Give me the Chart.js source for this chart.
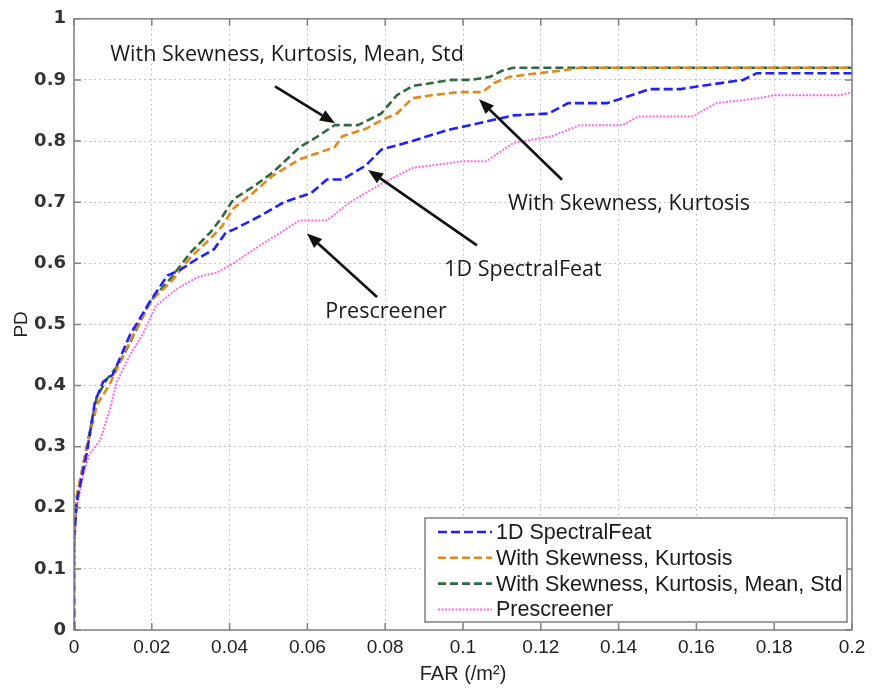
<!DOCTYPE html>
<html><head><meta charset="utf-8">
<script src="https://cdn.jsdelivr.net/npm/chart.js@4.4.0/dist/chart.umd.min.js"></script>
<style>html,body{margin:0;padding:0;background:#fff;}#wrap{width:875px;height:694px;}</style>
</head><body><div id="wrap"><canvas id="c" width="875" height="694"></canvas></div>
<script>
// ---- data ----
const xTicks = [0,0.02,0.04,0.06,0.08,0.1,0.12,0.14,0.16,0.18,0.2];
const yTicks = [0,0.1,0.2,0.3,0.4,0.5,0.6,0.7,0.8,0.9,1];
const seriesLabels = ['1D SpectralFeat','With Skewness, Kurtosis','With Skewness, Kurtosis, Mean, Std','Prescreener'];

const far1D = [0,0,0.0007,0.0033,0.0054,0.0075,0.01,0.0144,0.0195,0.024,0.027,0.0316,0.036,0.039,0.041,0.048,0.054,0.061,0.065,0.069,0.075,0.079,0.087,0.096,0.104,0.113,0.122,0.127,0.137,0.14,0.148,0.156,0.161,0.172,0.1755,0.2];
const pd1D  = [0,0.15,0.21,0.29,0.374,0.406,0.418,0.483,0.537,0.58,0.588,0.607,0.623,0.65,0.655,0.678,0.70,0.715,0.737,0.737,0.76,0.786,0.80,0.818,0.829,0.842,0.845,0.862,0.862,0.868,0.885,0.885,0.89,0.90,0.911,0.911];

const farSK = [0,0,0.0007,0.0033,0.006,0.009,0.012,0.015,0.02,0.025,0.03,0.035,0.038,0.041,0.046,0.051,0.058,0.067,0.069,0.075,0.079,0.083,0.087,0.092,0.099,0.105,0.108,0.112,0.118,0.125,0.13,0.2];
const pdSK  = [0,0.15,0.22,0.30,0.37,0.40,0.44,0.48,0.54,0.57,0.61,0.64,0.66,0.69,0.715,0.743,0.77,0.79,0.808,0.82,0.834,0.845,0.87,0.875,0.88,0.88,0.895,0.905,0.91,0.915,0.92,0.92];

const farMS = [0,0,0.0007,0.0033,0.0058,0.0084,0.011,0.0144,0.0195,0.0247,0.030,0.035,0.038,0.041,0.046,0.051,0.058,0.062,0.067,0.073,0.079,0.083,0.087,0.092,0.097,0.102,0.107,0.110,0.113,0.2];
const pdMS  = [0,0.15,0.216,0.30,0.38,0.41,0.43,0.47,0.537,0.574,0.618,0.65,0.675,0.705,0.725,0.748,0.79,0.805,0.826,0.826,0.845,0.875,0.89,0.895,0.90,0.90,0.905,0.915,0.92,0.92];

const farPre = [0,0,0.0007,0.0024,0.004,0.0067,0.0093,0.011,0.0144,0.018,0.021,0.0264,0.0316,0.0368,0.041,0.048,0.058,0.065,0.071,0.079,0.087,0.1,0.106,0.113,0.123,0.13,0.141,0.145,0.159,0.165,0.176,0.18,0.197,0.2];
const pdPre  = [0,0.12,0.2,0.255,0.288,0.31,0.363,0.406,0.45,0.488,0.53,0.558,0.577,0.585,0.60,0.63,0.67,0.67,0.70,0.73,0.756,0.767,0.767,0.797,0.808,0.826,0.826,0.84,0.84,0.862,0.87,0.875,0.875,0.88];

// annotation texts with anchor points in data units
const noteTexts = ['With Skewness, Kurtosis, Mean, Std','With Skewness, Kurtosis','1D SpectralFeat','Prescreener'];
const noteAt    = [[0.05476,0.9415],[0.14267,0.6976],[0.11542,0.5886],[0.08021,0.5203]];
const arrowTail = [[0.05167,0.8894],[0.12545,0.7366],[0.10360,0.6293],[0.07789,0.5447]];
const arrowHead = [[0.06710,0.8293],[0.10411,0.8683],[0.07558,0.7528],[0.05990,0.6488]];

// ---- build ----
const toXY = (xs, ys) => xs.map((v, i) => ({x: v, y: ys[i]}));
const styles = [
  {color:'#1f1fff', dash:[9,4], width:2.6},
  {color:'#e3891c', dash:[8,4], width:2.6},
  {color:'#2e6a40', dash:[8,4], width:2.6},
  {color:'#ff66f0', dash:[2,1.5], width:2.0}
];
const seriesData = [toXY(far1D,pd1D), toXY(farSK,pdSK), toXY(farMS,pdMS), toXY(farPre,pdPre)];
const datasets = seriesLabels.map((lab, i) => ({
  label: lab, data: seriesData[i], showLine: true, pointRadius: 0,
  borderColor: styles[i].color, backgroundColor: styles[i].color,
  borderDash: styles[i].dash, borderWidth: styles[i].width, fill: false, tension: 0
}));

const fmt = v => String(+Number(v).toFixed(2));

const framePlugin = {
  id: 'matlabFrame',
  afterDraw(chart) {
    const {ctx, chartArea: a, scales: {x, y}} = chart;
    ctx.save();
    ctx.setLineDash([]);
    ctx.strokeStyle = '#808080'; ctx.lineWidth = 1.5;
    ctx.strokeRect(a.left, a.top, a.right - a.left, a.bottom - a.top);
    ctx.beginPath();
    xTicks.forEach(v => { const p = x.getPixelForValue(v);
      ctx.moveTo(p, a.bottom); ctx.lineTo(p, a.bottom - 7);
      ctx.moveTo(p, a.top); ctx.lineTo(p, a.top + 7); });
    yTicks.forEach(v => { const p = y.getPixelForValue(v);
      ctx.moveTo(a.left, p); ctx.lineTo(a.left + 7, p);
      ctx.moveTo(a.right, p); ctx.lineTo(a.right - 7, p); });
    ctx.stroke();

    // annotations
    ctx.fillStyle = '#1a1a1a';
    ctx.font = '21.5px "Open Sans"';
    ctx.textAlign = 'center'; ctx.textBaseline = 'middle';
    noteTexts.forEach((t, i) => {
      ctx.fillText(t, x.getPixelForValue(noteAt[i][0]), y.getPixelForValue(noteAt[i][1]));
    });
    ctx.strokeStyle = '#111'; ctx.lineWidth = 2.6;
    arrowTail.forEach((tl, i) => {
      const x0 = x.getPixelForValue(tl[0]), y0 = y.getPixelForValue(tl[1]);
      const x1 = x.getPixelForValue(arrowHead[i][0]), y1 = y.getPixelForValue(arrowHead[i][1]);
      const ang = Math.atan2(y1 - y0, x1 - x0), L = 15, W = 6;
      const bx = x1 - L * Math.cos(ang), by = y1 - L * Math.sin(ang);
      ctx.beginPath(); ctx.moveTo(x0, y0); ctx.lineTo(bx, by); ctx.stroke();
      ctx.beginPath(); ctx.moveTo(x1, y1);
      ctx.lineTo(bx + W * Math.sin(ang), by - W * Math.cos(ang));
      ctx.lineTo(bx - W * Math.sin(ang), by + W * Math.cos(ang));
      ctx.closePath(); ctx.fillStyle = '#111'; ctx.fill();
    });

    // legend box
    const bx0 = 425, by0 = 518, bw = 422, bh = 104;
    ctx.fillStyle = '#fff'; ctx.fillRect(bx0, by0, bw, bh);
    ctx.strokeStyle = '#808080'; ctx.lineWidth = 1.5; ctx.strokeRect(bx0, by0, bw, bh);
    ctx.font = '21.5px "Liberation Sans", Arial, sans-serif';
    ctx.textAlign = 'left'; ctx.textBaseline = 'middle';
    chart.data.datasets.forEach((ds, i) => {
      const ry = by0 + 14 + i * 25.8;
      ctx.strokeStyle = ds.borderColor; ctx.lineWidth = ds.borderWidth;
      ctx.setLineDash(ds.borderDash);
      ctx.beginPath(); ctx.moveTo(438, ry); ctx.lineTo(492, ry); ctx.stroke();
      ctx.setLineDash([]);
      ctx.fillStyle = '#1a1a1a';
      ctx.fillText(ds.label, 496, ry + 1);
    });
    ctx.restore();
  }
};

new Chart(document.getElementById('c'), {
  type: 'scatter',
  data: { datasets },
  options: {
    responsive: false, animation: false,
    layout: { padding: { top: 15, right: 23, left: 0, bottom: 0 } },
    plugins: { legend: { display: false }, tooltip: { enabled: false } },
    scales: {
      x: {
        type: 'linear', min: 0, max: 0.2,
        afterBuildTicks: s => { s.ticks = xTicks.map(v => ({value: v})); },
        afterFit: s => { s.height = 64; },
        ticks: { callback: v => fmt(v), color: '#222', padding: 6, maxRotation: 0,
                 font: { family: '"Liberation Sans", Arial, sans-serif', size: 19 } },
        grid: { color: '#c4c4c4', lineWidth: 1, drawTicks: false },
        border: { display: false, dash: [2, 3] },
        title: { display: true, text: 'FAR (/m²)', color: '#222', padding: { top: 0, bottom: 8 },
                 font: { family: '"Liberation Sans", Arial, sans-serif', size: 20 } }
      },
      y: {
        type: 'linear', min: 0, max: 1,
        afterBuildTicks: s => { s.ticks = yTicks.map(v => ({value: v})); },
        afterFit: s => { s.width = 74; },
        ticks: { callback: v => fmt(v), color: '#333', padding: 8,
                 font: { family: '"DejaVu Sans", sans-serif', size: 18, weight: 'bold' } },
        grid: { color: '#c4c4c4', lineWidth: 1, drawTicks: false },
        border: { display: false, dash: [2, 3] },
        title: { display: true, text: 'PD', color: '#222', padding: { top: 10, bottom: 0 },
                 font: { family: '"Liberation Sans", Arial, sans-serif', size: 19 } }
      }
    }
  },
  plugins: [framePlugin]
});
</script>
</body></html>
